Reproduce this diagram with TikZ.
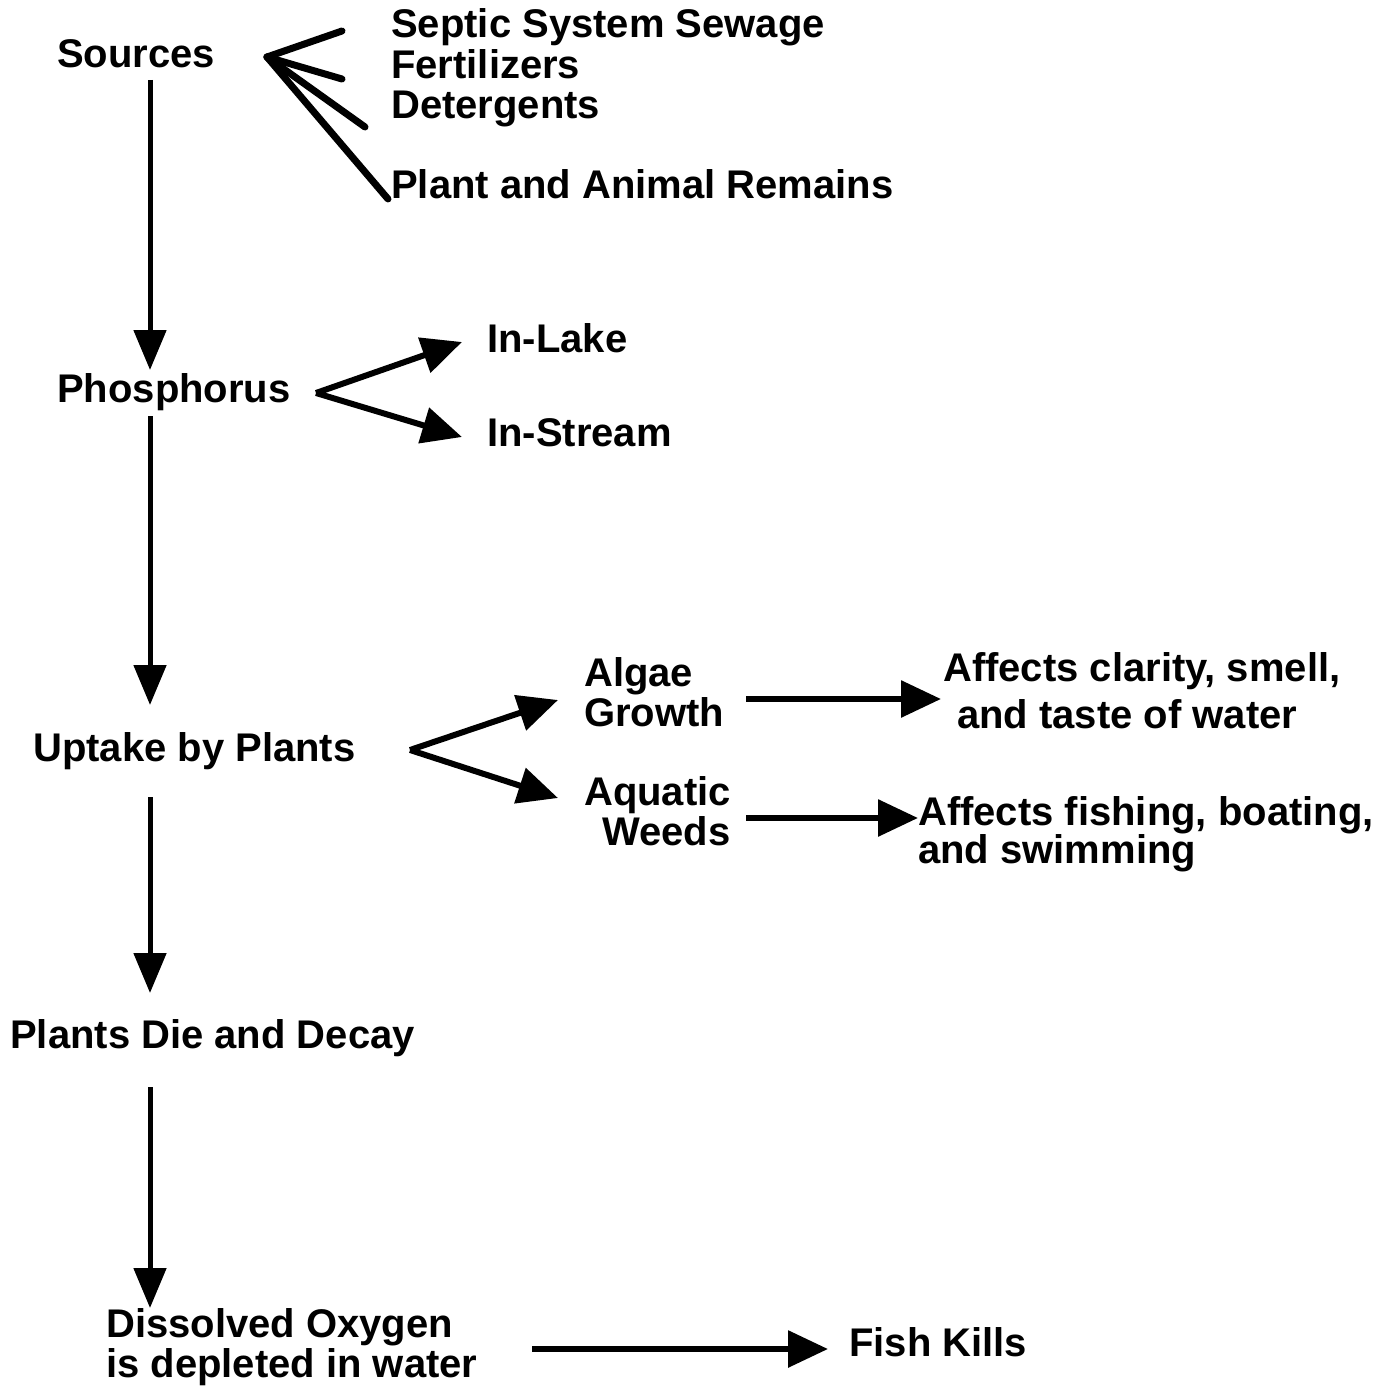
\documentclass[tikz,border=0pt]{standalone}
\usepackage{fontspec}
\setmainfont{Liberation Sans}
\usetikzlibrary{arrows.meta,calc}
\begin{document}
\begin{tikzpicture}[x=1pt,y=-1pt,
  t/.style={anchor=base west,inner sep=0pt,font=\fontsize{40}{40}\selectfont\bfseries},
  tm/.style={anchor=north west,inner sep=0pt,align=left,font=\fontsize{40}{40}\selectfont\bfseries},
  arr/.style={line width=5pt,-{Triangle[length=40pt,width=32pt]}},
  farr/.style={line width=6pt,-{Triangle[length=40pt,width=36pt]}},
  fan/.style={line width=7pt,line cap=round}]
\useasboundingbox (0,0) rectangle (1392,1386);
\fill[white] (0,0) rectangle (1392,1386);
\coordinate (ax) at (150,0);
% nodes
\node[t] (sources) at (57,68) {Sources};
\node[t] (septic) at (391,38) {Septic System Sewage};
\node[t] (fert) at (391,79) {Fertilizers};
\node[t] (det) at (391,119) {Detergents};
\node[t] (remains) at (391,198) {Plant and Animal Remains};
\node[t] (phos) at (57,402) {Phosphorus};
\node[t] (lake) at (487,352) {In-Lake};
\node[t] (stream) at (487,446) {In-Stream};
\node[t] (uptake) at (33,761) {Uptake by Plants};
\node[tm] (algae) at (584,657) {Algae\\Growth};
\node[tm] (aquatic) at (584,776) {Aquatic\\\hspace*{18pt}Weeds};
\node[tm] (clarity) at (943,652) {Affects clarity, smell,\\[7pt]\hspace*{14pt}and taste of water};
\node[tm] (fishing) at (918,796) {Affects fishing, boating,\\[-2pt]and swimming};
\node[t] (decay) at (10,1048) {Plants Die and Decay};
\node[tm] (oxygen) at (106,1308) {Dissolved Oxygen\\is depleted in water};
\node[t] (fish) at (849,1356) {Fish Kills};
% fan from Sources
\coordinate (sapex) at (267,57);
\draw[fan] (sapex) -- ($(septic.base west)+(-49,-7)$);
\draw[fan] (sapex) -- ($(fert.base west)+(-49,0)$);
\draw[fan] (sapex) -- ($(det.base west)+(-26,8)$);
\draw[fan] (sapex) -- ($(remains.base west)+(-3,1)$);
% vertical arrows
\draw[arr] ($(sources.base -| ax)+(0,12)$) -- ($(phos.base -| ax)+(0,-32)$);
\draw[arr] ($(phos.base -| ax)+(0,14)$) -- ($(uptake.base -| ax)+(0,-56)$);
\draw[arr] ($(uptake.base -| ax)+(0,36)$) -- ($(decay.base -| ax)+(0,-55)$);
\draw[arr] ($(decay.base -| ax)+(0,39)$) -- ($(oxygen.north -| ax)$);
% phosphorus fork
\coordinate (papex) at (316,393);
\draw[farr] (papex) -- ($(lake.base west)+(-25,-10)$);
\draw[farr] (papex) -- ($(stream.base west)+(-25,-9)$);
% uptake fork
\coordinate (uapex) at (410,750);
\draw[farr] (uapex) -- ($(algae.north west)+(-26,43)$);
\draw[farr] (uapex) -- ($(aquatic.north west)+(-26,22)$);
% horizontal arrows
\draw[farr] ($(algae.north west)+(162,42)$) -- ($(clarity.north west)+(-2,47)$);
\draw[farr] ($(aquatic.north west)+(162,42)$) -- ($(fishing.north west)+(0,22)$);
\draw[farr] ($(oxygen.north west)+(426,41)$) -- ($(fish.base west)+(-21,-7)$);
\end{tikzpicture}
\end{document}
